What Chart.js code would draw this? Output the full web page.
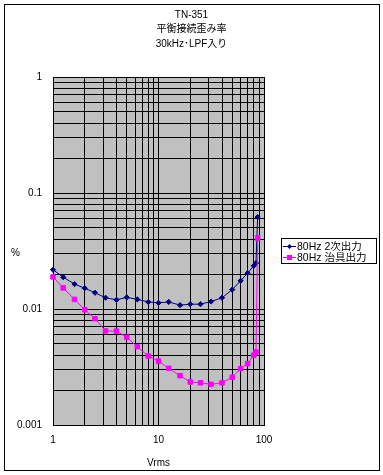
<!DOCTYPE html>
<html lang="ja">
<head>
<meta charset="utf-8">
<title>TN-351 平衡接続歪み率</title>
<script src="https://cdn.jsdelivr.net/npm/chart.js@4.4.1/dist/chart.umd.min.js"></script>
<style>
  html, body { margin: 0; padding: 0; background: #fff; }
  #wrap { position: relative; width: 383px; height: 475px; overflow: hidden; }
  #chart { position: absolute; left: 0; top: 0; }
  .frame {
    position: absolute; left: 4px; top: 4px; width: 374px; height: 465px;
    border: 1px solid #000; pointer-events: none;
  }
  .ttl {
    position: absolute; left: 0; top: 8px; width: 383px; text-align: center;
    font: 10px/14.3px "Liberation Sans", "Noto Sans CJK JP", sans-serif; color: #000;
  }
  .yname {
    position: absolute; left: 11px; top: 246px;
    font: 10px/14px "Liberation Sans", "Noto Sans CJK JP", sans-serif; color: #000;
  }
  .legend {
    position: absolute; left: 281px; top: 238px; width: 94px; height: 22px;
    padding-top: 2px; border: 1px solid #000; background: #fff;
    font: 10.5px/11px "Liberation Sans", "Noto Sans CJK JP", sans-serif; color: #000;
  }
  .legend .row { display: flex; align-items: center; height: 11px; white-space: nowrap; }
  .legend svg { margin: 0 1px 0 1px; flex: none; }
</style>
</head>
<body>
<div id="wrap">
  <canvas id="chart" width="383" height="475"></canvas>
  <div class="ttl">TN-351<br>平衡接続歪み率<br>30kHz･LPF入り</div>
  <div class="yname">%</div>
  <div class="legend" id="legend"></div>
  <div class="frame"></div>
</div>
<script>
// Vrms (x) と歪み率 % (y)
const VRMS     = [1, 1.25, 1.6, 2, 2.5, 3.15, 4, 5, 6.3, 8, 10, 12.5, 16, 20, 25, 31.5, 40, 50, 60, 70, 80, 84, 87];
const THD_2ND  = [0.0218, 0.0188, 0.0164, 0.0151, 0.0138, 0.0125, 0.0120, 0.0126, 0.0121, 0.0115, 0.0113, 0.0115,
                  0.0108, 0.0110, 0.0110, 0.0116, 0.0125, 0.0147, 0.0175, 0.0204, 0.0236, 0.0249, 0.062];
const THD_JIG  = [0.0189, 0.0152, 0.0121, 0.00986, 0.00825, 0.00647, 0.00645, 0.0057, 0.00473, 0.00393, 0.00356, 0.00308,
                  0.00266, 0.00235, 0.00231, 0.00224, 0.00231, 0.00258, 0.00306, 0.00338, 0.0040, 0.00426, 0.0409];

const SERIES_NAMES  = ["80Hz 2次出力", "80Hz 治具出力"];
const SERIES_COLORS = ["#000080", "#ff00ff"];

// 目盛り（グリッド線）とラベル
const X_GRID = [1, 2, 3, 4, 5, 6, 7, 8, 9, 10, 20, 30, 40, 50, 60, 70, 80, 90, 100];
const Y_GRID = [0.001, 0.002, 0.003, 0.004, 0.005, 0.006, 0.007, 0.008, 0.009,
                0.01, 0.02, 0.03, 0.04, 0.05, 0.06, 0.07, 0.08, 0.09,
                0.1, 0.2, 0.3, 0.4, 0.5, 0.6, 0.7, 0.8, 0.9, 1];
const X_LABELS = [1, 10, 100];
const Y_LABELS = [0.001, 0.01, 0.1, 1];

const FONT = "'Liberation Sans', 'Noto Sans CJK JP', sans-serif";

function toPoints(ys) {
  return VRMS.map((x, i) => ({ x, y: ys[i] }));
}

// 凡例（Excel風の枠付き）
function renderLegend() {
  const el = document.getElementById("legend");
  el.innerHTML = "";
  SERIES_NAMES.forEach((name, i) => {
    const c = SERIES_COLORS[i];
    const mark = i === 0
      ? `<path d="M6.5 1 L9 3.5 L6.5 6 L4 3.5 Z" fill="${c}"/>`
      : `<rect x="4" y="1" width="5" height="5" fill="${c}"/>`;
    const row = document.createElement("div");
    row.className = "row";
    row.innerHTML = `
      <svg width="13" height="7"><line x1="0" y1="3.5" x2="13" y2="3.5" stroke="${c}" stroke-width="1"/>${mark}</svg>
      <span>${name}</span>
    `;
    el.appendChild(row);
  });
}

const plotBg = {
  id: "plotBg",
  beforeDraw(c) {
    const { ctx, chartArea: a } = c;
    ctx.save();
    ctx.fillStyle = "#c0c0c0";
    ctx.fillRect(a.left, a.top, a.right - a.left, a.bottom - a.top);
    ctx.restore();
  }
};

const chart = new Chart(document.getElementById("chart"), {
  type: "line",
  data: {
    datasets: [
      {
        label: SERIES_NAMES[0],
        data: toPoints(THD_2ND),
        borderColor: SERIES_COLORS[0],
        backgroundColor: SERIES_COLORS[0],
        borderWidth: 1,
        pointStyle: "rectRot",
        pointRadius: 2.6,
        pointBorderWidth: 1,
        clip: false,
        order: 1
      },
      {
        label: SERIES_NAMES[1],
        data: toPoints(THD_JIG),
        borderColor: SERIES_COLORS[1],
        backgroundColor: SERIES_COLORS[1],
        borderWidth: 1,
        pointStyle: "rect",
        pointRadius: 3.2,
        pointBorderWidth: 1,
        clip: false,
        order: 0
      }
    ]
  },
  options: {
    responsive: false,
    animation: false,
    events: [],
    layout: { padding: { left: 0, right: 119, top: 77, bottom: 6 } },
    plugins: {
      legend: { display: false },
      tooltip: { enabled: false },
      title: { display: false }
    },
    scales: {
      x: {
        type: "logarithmic",
        min: 1,
        max: 100,
        afterBuildTicks: (s) => { s.ticks = X_GRID.map((v) => ({ value: v })); },
        afterFit: (s) => { s.height = 44; },
        grid: { color: "#000", lineWidth: 1, drawTicks: false },
        border: { color: "#000", width: 1 },
        ticks: {
          autoSkip: false,
          maxRotation: 0,
          padding: 9,
          color: "#000",
          font: { family: FONT, size: 10 },
          callback: (v) => (X_LABELS.includes(v) ? String(v) : "")
        },
        title: {
          display: true,
          text: "Vrms",
          color: "#000",
          padding: 0,
          font: { family: FONT, size: 10 }
        }
      },
      y: {
        type: "logarithmic",
        min: 0.001,
        max: 1,
        afterBuildTicks: (s) => { s.ticks = Y_GRID.map((v) => ({ value: v })); },
        afterFit: (s) => { s.width = 53; },
        grid: { color: "#000", lineWidth: 1, drawTicks: false },
        border: { color: "#000", width: 1 },
        ticks: {
          autoSkip: false,
          padding: 11,
          color: "#000",
          font: { family: FONT, size: 10 },
          callback: (v) => (Y_LABELS.includes(v) ? String(v) : "")
        }
      }
    }
  },
  plugins: [plotBg]
});

renderLegend();
</script>
</body>
</html>
